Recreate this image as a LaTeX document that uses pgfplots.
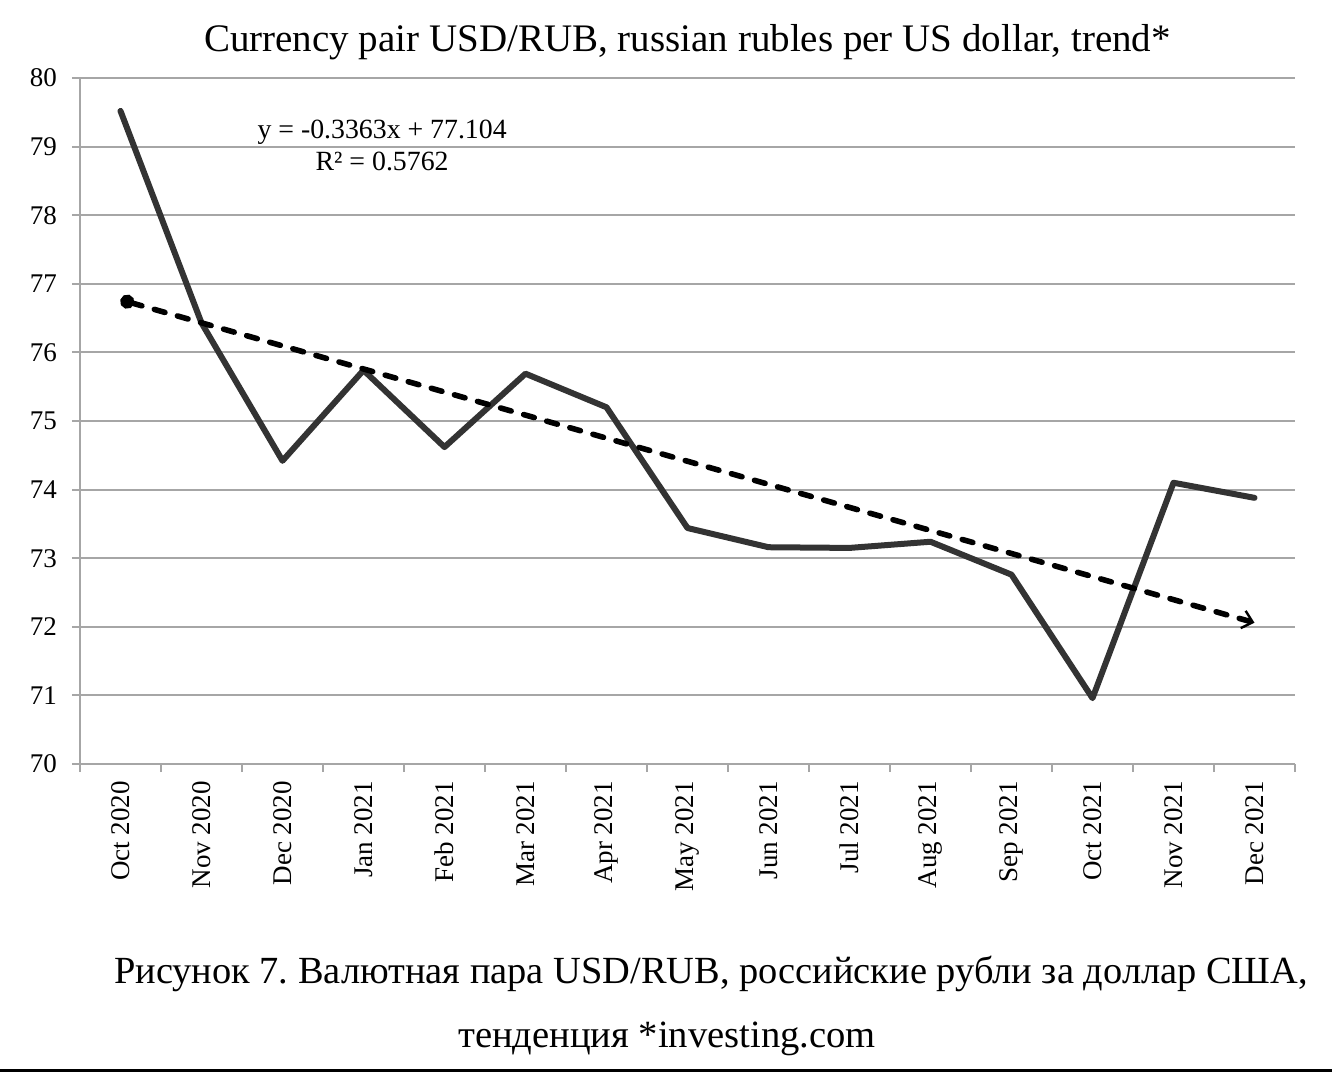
\documentclass[border=0pt]{standalone}
\usepackage{fontspec}
\setmainfont{Liberation Serif}
\usepackage{pgfplots}
\pgfplotsset{compat=1.18}
\usetikzlibrary{arrows.meta}
\definecolor{gridgray}{HTML}{A6A6A6}
\definecolor{linegray}{HTML}{333333}
\frenchspacing
\begin{document}
\begin{tikzpicture}
\useasboundingbox (-40pt,-154.5pt) rectangle (626pt,382pt);
\begin{axis}[
  scale only axis,
  width=607.5pt, height=343pt,
  xmin=-0.5, xmax=14.5,
  ymin=70, ymax=80,
  ytick={70,71,...,80},
  xtick={0,1,...,14},
  xticklabels={Oct 2020,Nov 2020,Dec 2020,Jan 2021,Feb 2021,Mar 2021,Apr 2021,May 2021,Jun 2021,Jul 2021,Aug 2021,Sep 2021,Oct 2021,Nov 2021,Dec 2021},
  minor xtick={-0.5,0.5,...,14.5},
  major x tick style={draw=none},
  minor tick length=4pt,
  major tick length=4pt,
  tick align=outside,
  xtick pos=bottom, ytick pos=left,
  axis x line*=bottom, axis y line*=left,
  axis line style={gridgray, line width=1pt},
  every tick/.style={gridgray, line width=1pt},
  minor x tick style={gridgray, line width=1pt},
  ymajorgrids,
  grid style={gridgray, line width=1pt},
  tick label style={font=\fontsize{13.5}{16}\selectfont},
  x tick label style={rotate=90, anchor=east},
  xticklabel shift=1pt,
  yticklabel style={xshift=-4pt},
  /pgf/number format/assume math mode=true,
  clip=false,
]
\addplot[linegray, line width=3pt, line join=round, line cap=round] coordinates {
(0,79.52) (1,76.43) (2,74.42) (3,75.74) (4,74.62) (5,75.69) (6,75.20)
(7,73.44) (8,73.16) (9,73.15) (10,73.24) (11,72.76) (12,70.96) (13,74.10) (14,73.88)};
\addplot[black, line width=2.8pt, line cap=round, dash pattern=on 5.5pt off 6.5pt, {Circle[length=7pt,sep=0pt]}-{Straight Barb[length=5pt,width=9pt,line width=1.2pt]}] coordinates {
(0,76.7677) (14,72.0595)};
\node[align=center, font=\fontsize{13.9}{16}\selectfont, inner sep=0pt] at (axis cs:3.23,79.01) {y = -0.3363x + 77.104\\R² = 0.5762};
\end{axis}
\node[anchor=base, font=\fontsize{19.5}{22}\selectfont] at (303.75pt,356pt) {Currency pair USD/RUB, russian rubles per US dollar, trend*};
\node[anchor=base, font=\fontsize{19.2}{22}\selectfont] at (315.5pt,-109.5pt) {Рисунок 7. Валютная пара USD/RUB, российские рубли за доллар США,};
\node[anchor=base, font=\fontsize{19.3}{22}\selectfont] at (293.5pt,-141.5pt) {тенденция *investing.com};
\draw[black, line width=1.5pt] (-40pt,-153.25pt) -- (626pt,-153.25pt);
\end{tikzpicture}
\end{document}
